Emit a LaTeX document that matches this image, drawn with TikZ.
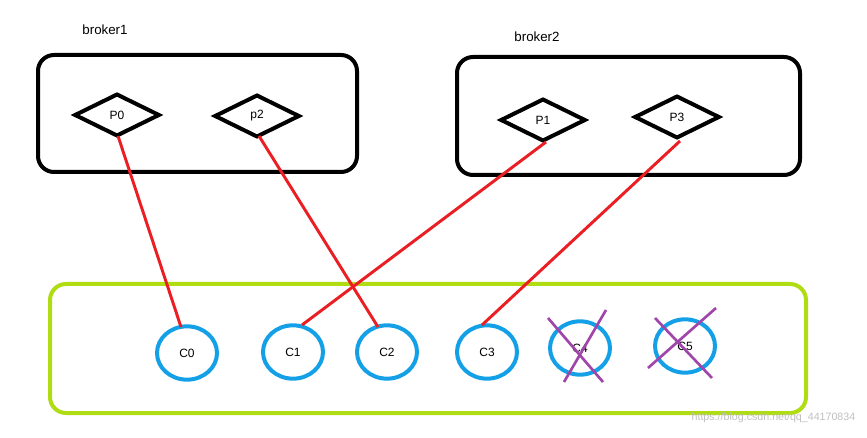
\documentclass[tikz,border=0pt]{standalone}
\usepackage{fontspec}
\setmainfont{Liberation Sans}
\usetikzlibrary{shapes.geometric}
\definecolor{grn}{RGB}{176,220,20}
\definecolor{cy}{RGB}{20,160,230}
\definecolor{rd}{RGB}{235,30,35}
\definecolor{pu}{RGB}{160,70,170}
\begin{document}
\begin{tikzpicture}[x=0.75pt,y=-0.75pt,
 box/.style={draw, line width=3pt, rounded corners=12pt},
 part/.style={draw, line width=3pt, diamond, aspect=2, minimum width=64pt, minimum height=32pt, inner sep=0pt, font=\small},
 cons/.style={draw=cy, line width=3pt, ellipse, minimum width=45pt, minimum height=40pt, inner sep=0pt, font=\small},
 link/.style={draw=rd, line width=2.2pt},
 cross/.style={draw=pu, line width=2pt},
 lbl/.style={font=\normalsize}]
\useasboundingbox (0,0) rectangle (867,438);
\draw[box] (38,55) rectangle (357,172);
\draw[box] (457,57) rectangle (800,175);
\draw[box, draw=grn] (50,284) rectangle (806,413);
\node[lbl] (b1) at (105,30) {broker1};
\node[lbl] (b2) at (537,37) {broker2};
\node[part] (p0) at (117,115) {P0};
\node[part] (p2) at (257,116) {p2};
\node[part] (p1) at (543,120) {P1};
\node[part] (p3) at (677,117) {P3};
\node[cons] (c0) at (187,353) {C0};
\node[cons] (c1) at (293,352) {C1};
\node[cons] (c2) at (387,352) {C2};
\node[cons] (c3) at (487,352) {C3};
\node[cons] (c4) at (580,348) {C4};
\node[cons] (c5) at (685,346) {C5};
\coordinate (a0) at (118,136); \coordinate (e0) at (181,327);
\coordinate (a2) at (259,136); \coordinate (e2) at (378,327);
\coordinate (a1) at (546,142); \coordinate (e1) at (302,325);
\coordinate (a3) at (680,141); \coordinate (e3) at (482,325);
\draw[link] (a0) -- (e0);
\draw[link] (a2) -- (e2);
\draw[link] (a1) -- (e1);
\draw[link] (a3) -- (e3);
\coordinate (x1) at (548,318); \coordinate (x2) at (603,382);
\coordinate (x3) at (606,310); \coordinate (x4) at (564,382);
\coordinate (y1) at (655,318); \coordinate (y2) at (712,378);
\coordinate (y3) at (716,308); \coordinate (y4) at (648,368);
\draw[cross] (x1) -- (x2); \draw[cross] (x3) -- (x4);
\draw[cross] (y1) -- (y2); \draw[cross] (y3) -- (y4);
\node[font=\footnotesize, text=gray!50, anchor=east] (wm) at (860,418) {https://blog.csdn.net/qq\_44170834};
\end{tikzpicture}
\end{document}
